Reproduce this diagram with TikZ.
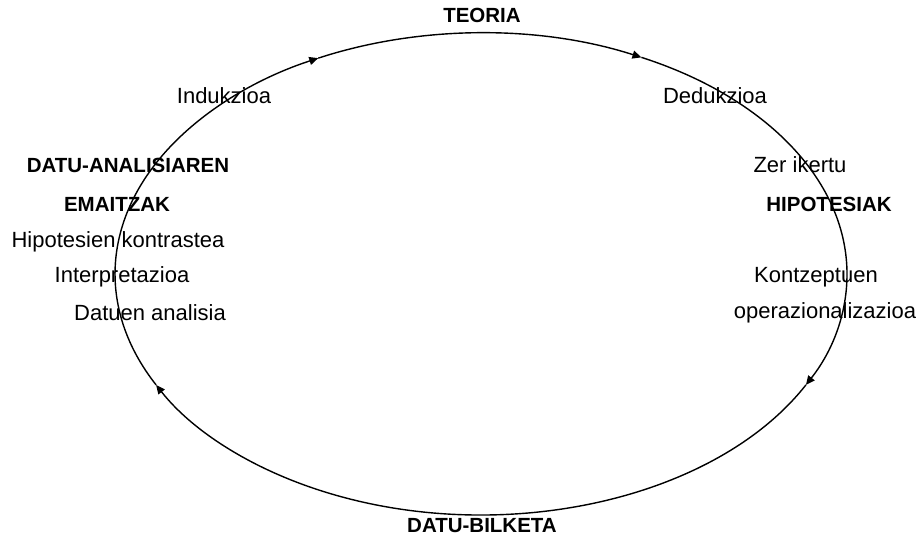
\documentclass[tikz,border=0pt]{standalone}
\usepackage{fontspec}
\setmainfont{Liberation Sans}
\usetikzlibrary{arrows.meta,calc}
\begin{document}
\begin{tikzpicture}[x=1pt,y=1pt,
  lbl/.style={inner sep=0pt,font=\fontsize{22}{26}\selectfont},
  bl/.style={inner sep=0pt,font=\fontsize{20.5}{24}\selectfont\bfseries},
  cyc/.style={line width=1.4pt,-{Triangle[length=9pt,width=8pt]}}]
\useasboundingbox[fill=white] (0,0) rectangle (918,537);
\coordinate (c) at (481,263);
\coordinate (p1) at ($(c)+(116.4:366 and 241)$);
\coordinate (p2) at ($(c)+(64:366 and 241)$);
\coordinate (p3) at ($(c)+(-27.4:366 and 241)$);
\coordinate (p4) at ($(c)+(-152.6:366 and 241)$);
\draw[cyc] (p1) arc[start angle=116.4,end angle=64,x radius=366,y radius=241];
\draw[cyc] (p2) arc[start angle=64,end angle=-27.4,x radius=366,y radius=241];
\draw[cyc] (p3) arc[start angle=-27.4,end angle=-152.6,x radius=366,y radius=241];
\draw[cyc] (p4) arc[start angle=-152.6,end angle=-243.6,x radius=366,y radius=241];
\node[bl] (teoria) at (482,522) {TEORIA};
\node[lbl] (ind) at (224,441) {Indukzioa};
\node[lbl] (ded) at (715,441) {Dedukzioa};
\node[bl] (dan) at (128,372) {DATU-ANALISIAREN};
\node[lbl] (zer) at (800,372) {Zer ikertu};
\node[bl] (emai) at (117,333) {EMAITZAK};
\node[bl] (hipo) at (829,333) {HIPOTESIAK};
\node[lbl] (kontr) at (118,295) {Hipotesien kontrastea};
\node[lbl] (inter) at (122,260) {Interpretazioa};
\node[lbl] (kontz) at (816,260) {Kontzeptuen};
\node[lbl] (datan) at (150,224) {Datuen analisia};
\node[lbl] (oper) at (825,224) {operazionalizazioa};
\node[bl] (bilk) at (482,11) {DATU-BILKETA};
\end{tikzpicture}
\end{document}
